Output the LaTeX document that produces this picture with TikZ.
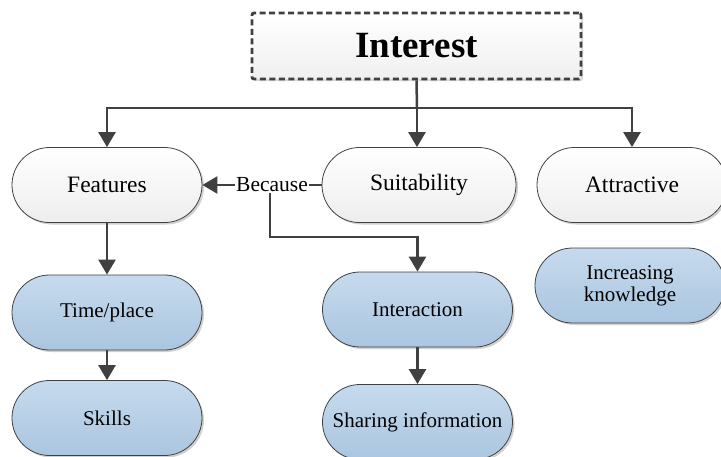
\documentclass[tikz,border=0pt]{standalone}
\usepackage{fontspec}
\setmainfont{Liberation Serif}
\usetikzlibrary{arrows.meta,shadows}
\definecolor{linegray}{HTML}{404040}
\definecolor{bluetop}{HTML}{C6DAED}
\definecolor{bluebot}{HTML}{AAC6E0}
\tikzset{
  pill/.style={rectangle, rounded corners=37.5pt, minimum width=190pt, minimum height=75pt,
    draw=linegray, line width=0.8pt, inner sep=0pt, align=center,
    drop shadow={shadow xshift=2pt, shadow yshift=-2pt, opacity=0.18, fill=black}},
  greypill/.style={pill, top color=white, bottom color=gray!14, font=\fontsize{23.5}{24}\selectfont},
  bluepill/.style={pill, top color=bluetop, bottom color=bluebot, font=\fontsize{21}{21.8}\selectfont},
  link/.style={draw=linegray, line width=2.5pt},
  arr/.style={link, -{Triangle[length=15pt,width=17pt]}},
  titlebox/.style={rectangle, rounded corners=2pt, minimum width=329pt, minimum height=66pt,
    draw=linegray, line width=2.8pt, dash pattern=on 6pt off 3.5pt, top color=white, bottom color=gray!12,
    drop shadow={shadow xshift=2pt, shadow yshift=-2pt, opacity=0.15, fill=black},
    font=\bfseries\fontsize{37}{40}\selectfont}
}
\begin{document}
\begin{tikzpicture}[x=1pt, y=-1pt]
\useasboundingbox (0,0) rectangle (721,456);

% title
\node[titlebox] (int) at (416.5,46) {Interest};

% top row
\node[greypill] (feat) at (107,185) {Features};
\node[greypill, minimum width=194pt] (suit) at (419,185) {Suitability};
\node[greypill] (attr) at (632,185) {Attractive};

% lower rows
\node[bluepill] (time) at (107,312.5) {Time/place};
\node[bluepill] (skil) at (107,418) {Skills};
\node[bluepill] (inter) at (417.5,309.5) {Interaction};
\node[bluepill] (share) at (417.5,422) {Sharing information};
\node[bluepill] (know) at (630,285.5) {Increasing\\knowledge};

% label between Suitability and Features
\node[font=\fontsize{21.5}{22}\selectfont, inner sep=1pt] (bc) at (272,185) {Because};

% branching from the title
\coordinate (bus) at (417,108);
\draw[link] (int.south) -- (bus);
\draw[arr] (bus) -| (feat.north);
\draw[arr] (bus) -- (suit.north -| bus);
\draw[arr] (bus) -| (attr.north);

% Because connections
\draw[link] (suit.west) -- (bc.east);
\draw[arr] (bc.west) -- (feat.east);
\coordinate (bend) at (270,237);
\draw[arr] (bc.south -| bend) -- (bend) -| (inter.north);

% vertical chains
\draw[arr] (feat.south) -- (time.north);
\draw[arr] (time.south) -- (skil.north);
\draw[arr] (inter.south) -- (share.north);
\end{tikzpicture}
\end{document}
